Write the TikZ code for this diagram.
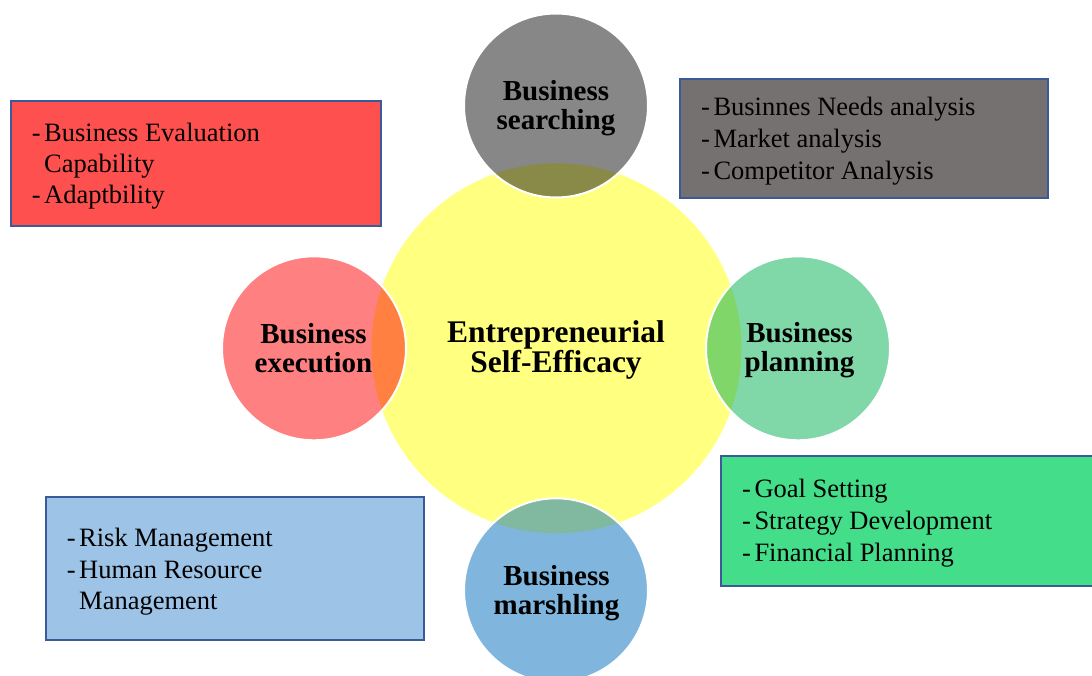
\documentclass[tikz,border=0pt]{standalone}
\usepackage{fontspec}
\setmainfont{Liberation Serif}
\definecolor{yel}{HTML}{FFFF80}
\definecolor{cgray}{HTML}{878787}
\definecolor{cred}{HTML}{FF8080}
\definecolor{cgreen}{HTML}{80D8A8}
\definecolor{cblue}{HTML}{80B6DE}
\definecolor{lgray}{HTML}{898948}
\definecolor{lred}{HTML}{FF8040}
\definecolor{lgreen}{HTML}{80D668}
\definecolor{lblue}{HTML}{80B8A0}
\definecolor{bred}{HTML}{FF5050}
\definecolor{bgray}{HTML}{767171}
\definecolor{bgreen}{HTML}{44DD89}
\definecolor{bblue}{HTML}{9DC3E6}
\definecolor{bline}{HTML}{3B5B98}
\newcommand{\dsh}{\llap{-\hspace{3.5pt}}}
\begin{document}
\begin{tikzpicture}[x=1pt,y=-1pt,
  listbox/.style={draw=bline, line width=2pt, rectangle, inner sep=0pt, anchor=north west},
  item/.style={anchor=base west, inner sep=0pt, font=\fontsize{26.5}{30}\selectfont},
  clabel/.style={anchor=base, inner sep=0pt, font=\bfseries\fontsize{29}{30}\selectfont},
  mlabel/.style={anchor=base, inner sep=0pt, font=\bfseries\fontsize{31.5}{32}\selectfont},
  smallc/.style={circle, inner sep=0pt, minimum size=184pt},
  rim/.style={draw=white, line width=2pt}
]
\useasboundingbox (0,0) rectangle (1092,675);
\clip (0,0) rectangle (1092,675);
% boxes
\node[listbox, fill=bred, minimum width=370pt, minimum height=125pt] (redbox) at (10,100) {};
\node[listbox, fill=bgray, minimum width=367.4pt, minimum height=119pt] (graybox) at (679.3,78.3) {};
\node[listbox, fill=bgreen, minimum width=390pt, minimum height=130pt] (greenbox) at (720,455) {};
\node[listbox, fill=bblue, minimum width=377.7pt, minimum height=143.3pt] (bluebox) at (45,495.7) {};
% box texts
\node[item] (r1) at (44,141.7) {\dsh Business Evaluation};
\node[item] (r2) at (44,172.5) {Capability};
\node[item] (r3) at (44,203.5) {\dsh Adaptbility};
\node[item] (g1) at (713.3,115.7) {\dsh Businnes Needs analysis};
\node[item] (g2) at (713.3,147.3) {\dsh Market analysis};
\node[item] (g3) at (713.3,179.3) {\dsh Competitor Analysis};
\node[item] (n1) at (754.3,497.3) {\dsh Goal Setting};
\node[item] (n2) at (754.3,529.5) {\dsh Strategy Development};
\node[item] (n3) at (754.3,561) {\dsh Financial Planning};
\node[item] (b1) at (79,546.7) {\dsh Risk Management};
\node[item] (b2) at (79,578.3) {\dsh Human Resource};
\node[item] (b3) at (79,609.5) {Management};
% circles
\node[circle, inner sep=0pt, minimum size=370pt, fill=yel] (core) at (556.5,348.3) {};
\node[smallc, fill=cgray] (top) at (556,105.5) {};
\node[smallc, fill=cred] (left) at (314,348.3) {};
\node[smallc, fill=cgreen] (right) at (798,348.3) {};
\node[smallc, fill=cblue] (bottom) at (556,590.3) {};
% overlaps
\begin{scope}\clip (top.center) circle[radius=92]; \fill[lgray] (core.center) circle[radius=185];\end{scope}
\begin{scope}\clip (left.center) circle[radius=92]; \fill[lred] (core.center) circle[radius=185];\end{scope}
\begin{scope}\clip (right.center) circle[radius=92]; \fill[lgreen] (core.center) circle[radius=185];\end{scope}
\begin{scope}\clip (bottom.center) circle[radius=92]; \fill[lblue] (core.center) circle[radius=185];\end{scope}
\draw[rim] (top.center) circle[radius=92];
\draw[rim] (left.center) circle[radius=92];
\draw[rim] (right.center) circle[radius=92];
\draw[rim] (bottom.center) circle[radius=92];
% circle labels
\node[mlabel] (m1) at (556,342) {Entrepreneurial};
\node[mlabel] (m2) at (556,372.5) {Self-Efficacy};
\node[clabel] (t1) at (556,100) {Business};
\node[clabel] (t2) at (556,129.3) {searching};
\node[clabel] (l1) at (313.5,343.3) {Business};
\node[clabel] (l2) at (313.5,372) {execution};
\node[clabel] (p1) at (799.5,342.7) {Business};
\node[clabel] (p2) at (799.5,371.5) {planning};
\node[clabel] (u1) at (556.5,585.5) {Business};
\node[clabel] (u2) at (556.5,614.5) {marshling};
\end{tikzpicture}
\end{document}
